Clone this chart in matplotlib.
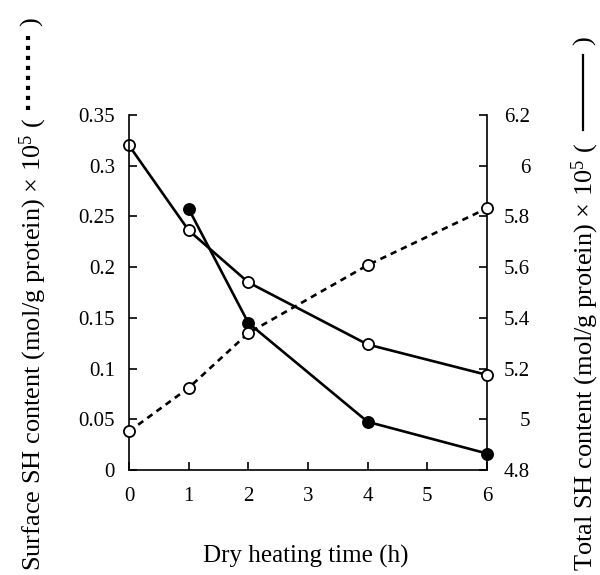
import matplotlib
matplotlib.use("Agg")
import matplotlib.pyplot as plt
from matplotlib.lines import Line2D

plt.rcParams['font.family'] = ['Liberation Serif', 'DejaVu Serif']
plt.rcParams['mathtext.fontset'] = 'custom'
plt.rcParams['mathtext.rm'] = 'Liberation Serif'
plt.rcParams['mathtext.it'] = 'Liberation Serif:italic'
plt.rcParams['mathtext.bf'] = 'Liberation Serif:bold'

# Dry heating time (h)
hours_surface = [0, 1, 2, 4, 6]
hours_total_open = [0, 1, 2, 4, 6]
hours_total_filled = [1, 2, 4, 6]

# Surface SH content (mol/g protein) x 1e5, left axis
surface_sh = [0.038, 0.081, 0.135, 0.202, 0.258]
# Total SH content (mol/g protein) x 1e5, right axis
total_sh_open = [6.08, 5.745, 5.54, 5.295, 5.175]
total_sh_filled = [5.83, 5.38, 4.99, 4.865]

x_ticks = [0, 1, 2, 3, 4, 5, 6]
x_tick_labels = ['0', '1', '2', '3', '4', '5', '6']
left_ticks = [0, 0.05, 0.1, 0.15, 0.2, 0.25, 0.3, 0.35]
left_tick_labels = ['0', '0.05', '0.1', '0.15', '0.2', '0.25', '0.3', '0.35']
right_ticks = [4.8, 5.0, 5.2, 5.4, 5.6, 5.8, 6.0, 6.2]
right_tick_labels = ['4.8', '5', '5.2', '5.4', '5.6', '5.8', '6', '6.2']

W, H = 600, 575
fig = plt.figure(figsize=(W / 100, H / 100), dpi=100)
ax = fig.add_axes([129 / W, 1 - 470 / H, 358 / W, 355 / H])
ax2 = ax.twinx()

LW = 1.9
common = dict(color='black', lw=LW, clip_on=False, markersize=8,
              markeredgewidth=1.3, markeredgecolor='black')

ax2.plot(hours_total_open, total_sh_open, '-o', markerfacecolor='white', zorder=3, **common)
ax2.plot(hours_total_filled, total_sh_filled, '-o', markerfacecolor='black', zorder=3, **common)
ax.plot(hours_surface, surface_sh, linestyle=(0, (2.4, 1.9)), marker='o',
        markerfacecolor='white', zorder=3, **common)

# surface series drawn above the twin axes
ax.set_zorder(ax2.get_zorder() + 1)
ax.patch.set_visible(False)

ax.set_xlim(0, 6)
ax.set_ylim(0, 0.35)
ax2.set_ylim(4.8, 6.2)

ax.set_xticks(x_ticks, x_tick_labels)
ax.set_yticks(left_ticks, left_tick_labels)
ax2.set_yticks(right_ticks, right_tick_labels)

for s in ('top', 'right'):
    ax.spines[s].set_visible(False)
for s in ('top', 'left', 'bottom'):
    ax2.spines[s].set_visible(False)
for sp in (ax.spines['left'], ax.spines['bottom'], ax2.spines['right']):
    sp.set_linewidth(1.2)

TFS = 15
ax.tick_params(axis='x', direction='in', length=6, width=1.2, labelsize=TFS, pad=12)
ax.tick_params(axis='y', direction='in', length=6, width=1.2, labelsize=TFS, pad=10)
ax2.tick_params(axis='y', direction='in', length=6, width=1.2, labelsize=TFS, pad=31)
for lab in ax2.get_yticklabels():
    lab.set_horizontalalignment('right')

ax.set_xlabel('Dry heating time (h)', fontsize=18)
ax.xaxis.set_label_coords((306 - 129) / 358, (470 - 556) / 355)
ax.xaxis.label.set_verticalalignment('center')

YFS = 19


def px(x, y):
    return x / W, 1 - y / H


# left axis title with dotted-line key
fig.text(*px(33, 118), 'Surface SH content (mol/g protein) × 10$^5$ (',
         rotation=90, ha='center', va='top', fontsize=YFS)
fig.add_artist(Line2D([28 / W, 28 / W], [1 - 110 / H, 1 - 36 / H],
                      transform=fig.transFigure, color='black', lw=3,
                      linestyle=(0, (1, 1.4)), dash_capstyle='butt'))
fig.text(*px(32, 22), ')', rotation=90, ha='center', va='center', fontsize=YFS)

# right axis title with solid-line key
fig.text(*px(585, 143), 'Total SH content (mol/g protein) × 10$^5$ (',
         rotation=90, ha='center', va='top', fontsize=YFS)
fig.add_artist(Line2D([583 / W, 583 / W], [1 - 130 / H, 1 - 55 / H],
                      transform=fig.transFigure, color='black', lw=1.6))
fig.text(*px(585, 41), ')', rotation=90, ha='center', va='center', fontsize=YFS)

fig.savefig('out.png', dpi=100)
